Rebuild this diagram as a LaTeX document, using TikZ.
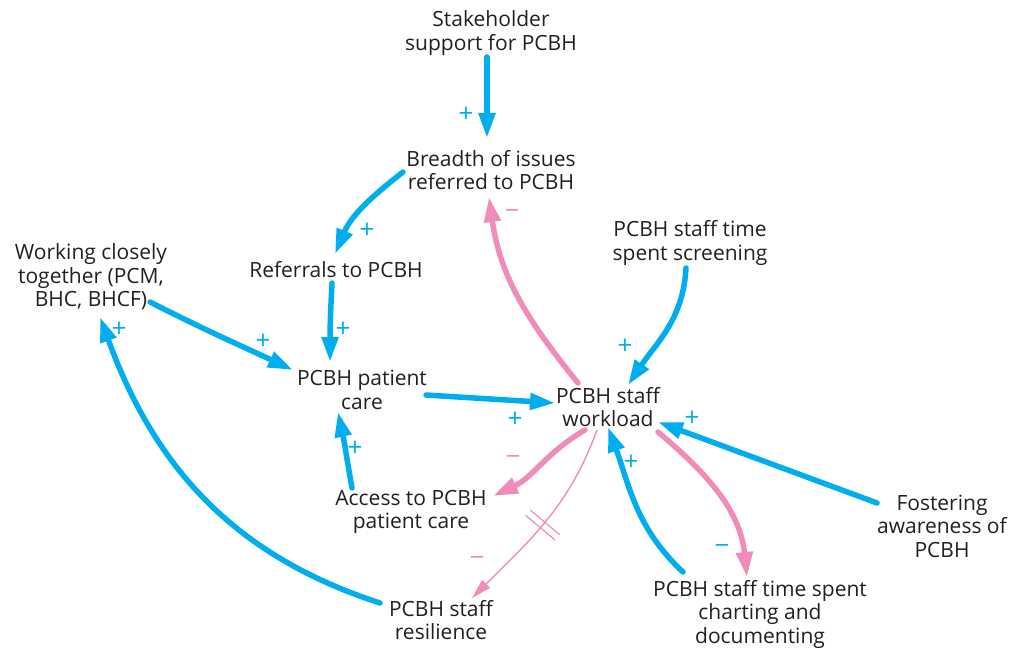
\documentclass[tikz,border=0pt]{standalone}
\usepackage{fontspec}
\setmainfont{Open Sans}
\usetikzlibrary{arrows.meta,decorations.markings}
\definecolor{cldblue}{HTML}{00AEEF}
\definecolor{cldpink}{HTML}{F08CBA}
\definecolor{cldtext}{HTML}{231F20}
\begin{document}
\begin{tikzpicture}[x=1pt,y=1pt,
  var/.style={align=center, text=cldtext, inner sep=1pt,
    font=\fontsize{21}{23.5}\selectfont},
  pos link/.style={draw=cldblue, line width=5.5pt, line cap=round,
    -{Triangle[length=25pt,width=16pt]}},
  neg link/.style={draw=cldpink, line width=5.5pt, line cap=round,
    -{Triangle[length=25pt,width=16pt]}},
  thin link/.style={draw=cldpink, line width=1.4pt, line cap=round,
    -{Triangle[length=20pt,width=11pt]}},
  plus/.style={text=cldblue, inner sep=0pt, font=\fontsize{26}{26}\selectfont},
  minus/.style={text=cldpink, inner sep=0pt, font=\fontsize{26}{26}\selectfont},
  delay/.style={postaction={decorate}, decoration={markings,
    mark=at position 0.52 with {\draw[-, draw=cldpink, line width=1.2pt]
      (-3.5,-19) -- (-3.5,19) (3.5,-19) -- (3.5,19);}}}
]
\useasboundingbox (0,0) rectangle (1014,-650);

% variables
\node[var] (stake)   at (491,-33)  {Stakeholder\\support for PCBH};
\node[var] (breadth) at (491,-170) {Breadth of issues\\referred to PCBH};
\node[var] (refer)   at (336,-270) {Referrals to PCBH};
\node[var] (work)    at (91,-277)  {Working closely\\together (PCM,\\BHC, BHCF)};
\node[var] (care)    at (362,-390) {PCBH patient\\care};
\node[var] (load)    at (608,-407) {PCBH staff\\workload};
\node[var] (screen)  at (690,-243) {PCBH staff time\\spent screening};
\node[var] (foster)  at (942,-526) {Fostering\\awareness of\\PCBH};
\node[var] (access)  at (411,-512) {Access to PCBH\\patient care};
\node[var] (resil)   at (441,-620) {PCBH staff\\resilience};
\node[var] (chart)   at (760,-614) {PCBH staff time spent\\charting and\\documenting};

% causal links (end points offset from the centres of the variables)
\draw[pos link] ([shift={(-4,-24)}]stake.center) -- ([shift={(-4,32)}]breadth.center);
\draw[pos link] ([shift={(-88,-2)}]breadth.center) to[out=218,in=67] ([shift={(-1,16)}]refer.center);
\draw[pos link] ([shift={(-4,-13)}]refer.center) to[out=-93,in=90] ([shift={(-32,28)}]care.center);
\draw[pos link] ([shift={(59,-25)}]work.center) to[out=-27,in=155] ([shift={(-69,20)}]care.center);
\draw[pos link] ([shift={(64,-5)}]care.center) -- ([shift={(-53,4)}]load.center);
\draw[pos link] ([shift={(-4,-25)}]screen.center) to[out=-93,in=56] ([shift={(20,22)}]load.center);
\draw[pos link] ([shift={(-65,23)}]foster.center) -- ([shift={(50,-15)}]load.center);
\draw[pos link] ([shift={(-77,42)}]chart.center) to[out=137,in=-70] ([shift={(0,-20)}]load.center);
\draw[neg link] ([shift={(50,-25)}]load.center) to[out=-40,in=96] ([shift={(-13,37)}]chart.center);
\draw[neg link] ([shift={(-30,24)}]load.center) to[out=129,in=-82] ([shift={(-2,-27)}]breadth.center);
\draw[neg link] ([shift={(-23,-23)}]load.center) to[out=210,in=25] ([shift={(82,16)}]access.center);
\draw[thin link, delay] ([shift={(-11,-23)}]load.center) to[out=250,in=45] ([shift={(31,22)}]resil.center);
\draw[pos link] ([shift={(-59,24)}]access.center) to[out=100,in=-78] ([shift={(-24,-22)}]care.center);
\draw[pos link] ([shift={(-61,17)}]resil.center) to[out=162,in=-70] ([shift={(9,-40)}]work.center);

% polarities
\node[plus] (p1)  at (466,-115) {+};
\node[plus] (p2)  at (367,-231) {+};
\node[plus] (p3)  at (343,-330) {+};
\node[plus] (p4)  at (263,-342) {+};
\node[plus] (p5)  at (119,-330) {+};
\node[plus] (p6)  at (355,-449) {+};
\node[plus] (p7)  at (515,-420) {+};
\node[plus] (p8)  at (625,-347) {+};
\node[plus] (p9)  at (692,-419) {+};
\node[plus] (p10) at (631,-463) {+};
\node[plus] (m1)  at (722,-549) {−};
\node[minus] (m2) at (512,-214) {−};
\node[minus] (m3) at (513,-460) {−};
\node[minus] (m4) at (477,-561) {−};
\end{tikzpicture}
\end{document}
